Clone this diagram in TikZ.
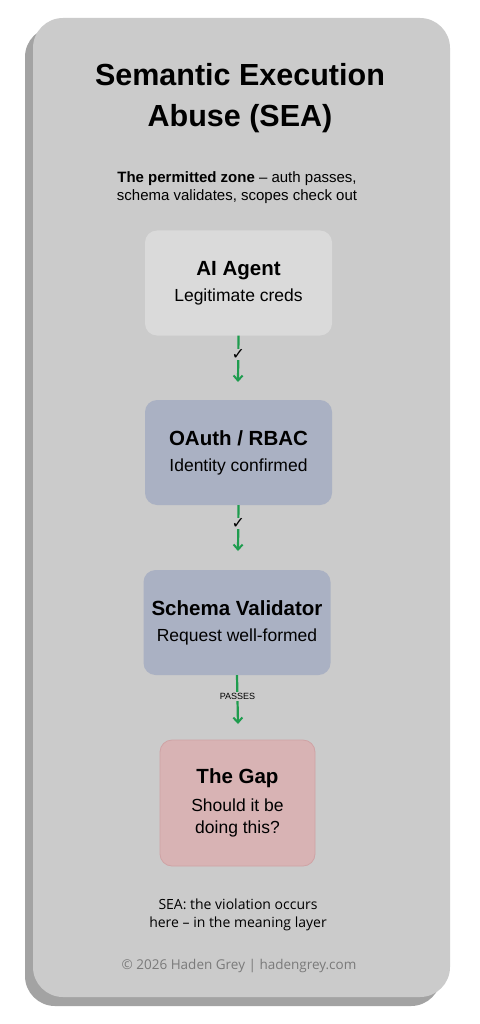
\documentclass[tikz,border=0pt]{standalone}
\usepackage{fontspec}
\setmainfont{Liberation Sans}
\newfontfamily\bodyfont{Open Sans}
\newfontfamily\symfont{DejaVu Sans}
\usetikzlibrary{arrows.meta}
\definecolor{facec}{HTML}{CBCBCB}
\definecolor{shadowc}{HTML}{A3A3A3}
\definecolor{agentc}{HTML}{DADADA}
\definecolor{bluec}{HTML}{AAB1C3}
\definecolor{pinkc}{HTML}{D8B3B4}
\definecolor{pinkb}{HTML}{CFA3A5}
\definecolor{greenc}{HTML}{1E9C4E}
\definecolor{footc}{HTML}{7A7A7A}
\begin{document}
\begin{tikzpicture}[x=1pt,y=-1pt,
  card/.style={rounded corners=12pt, minimum width=187pt, minimum height=105pt, align=center, inner sep=0pt,
    font=\fontsize{17.5}{22}\selectfont},
  flow/.style={draw=greenc, line width=2.2pt, -{Straight Barb[length=5pt,width=9pt,line width=2pt]}},
  tick/.style={fill=facec, inner sep=0.3pt, font=\symfont\fontsize{16}{16}\selectfont},
  passlabel/.style={fill=facec, inner sep=1.5pt, font=\fontsize{9}{9}\selectfont}
]
\useasboundingbox (0,0) rectangle (479,1024);
\fill[shadowc, rounded corners=30pt] (25,27) rectangle (441,1006);
\fill[facec, rounded corners=30pt] (33,18) rectangle (450,997);

\node[align=center, font=\fontsize{30.5}{41}\selectfont\bfseries] (title) at (240,98) {Semantic Execution\\Abuse (SEA)};
\node[align=center, font=\fontsize{15}{18}\selectfont] (sub) at (237,188) {\textbf{The permitted zone} – auth passes,\\schema validates, scopes check out};

\node[card, fill=agentc] (agent) at (238.5,283) {{\fontsize{20.5}{22}\selectfont\bfseries AI Agent}\\[4pt]Legitimate creds};
\node[card, fill=bluec] (oauth) at (238.5,452.5) {{\fontsize{20.5}{22}\selectfont\bfseries OAuth / RBAC}\\[4pt]Identity confirmed};
\node[card, fill=bluec] (schema) at (237,622.5) {{\fontsize{20.5}{22}\selectfont\bfseries Schema Validator}\\[4pt]Request well-formed};
\node[card, fill=pinkc, draw=pinkb, line width=0.8pt, minimum width=155pt, minimum height=126pt] (gap) at (237.5,803) {{\fontsize{20.5}{22}\selectfont\bfseries The Gap}\\[6pt]Should it be\\doing this?};

\coordinate (e1) at (238,382);
\coordinate (e2) at (238,551);
\coordinate (e3) at (238,724);
\draw[flow] (agent.south) -- node[tick, pos=0.4] {✓} (e1);
\draw[flow] (oauth.south) -- node[tick, pos=0.4] {✓} (e2);
\draw[flow] (schema.south) -- node[passlabel, pos=0.43] {PASSES} (e3);

\node[align=center, font=\bodyfont\fontsize{14}{18.5}\selectfont] (note) at (238,915) {SEA: the violation occurs\\here – in the meaning layer};
\node[font=\bodyfont\fontsize{13.5}{16}\selectfont, text=footc] (foot) at (239,966) {© 2026 Haden Grey | hadengrey.com};
\end{tikzpicture}
\end{document}
